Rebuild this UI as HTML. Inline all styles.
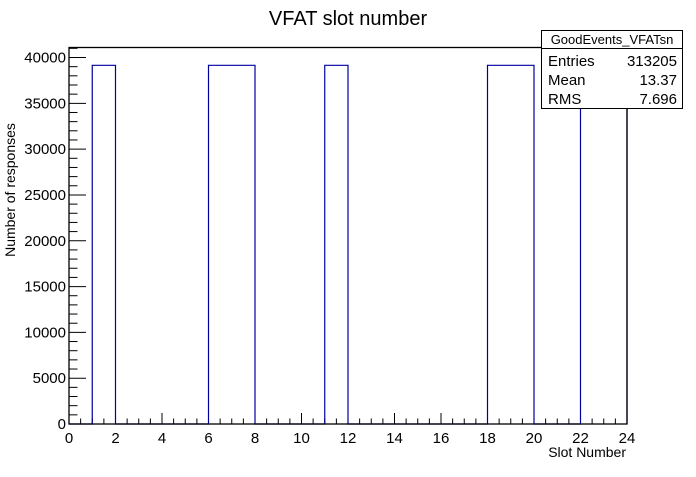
<!DOCTYPE html>
<html><head><meta charset="utf-8"><style>
body{margin:0;background:#fff;font-family:"Liberation Sans",sans-serif;}
svg text{font-family:"Liberation Sans",sans-serif;}
</style></head><body>
<svg id="c" width="696" height="472" viewBox="0 0 696 472">
<rect width="696" height="472" fill="#fff"/>
<text x="348" y="25" font-size="20" text-anchor="middle">VFAT slot number</text>
<g id="plot"></g>
<text x="626" y="457" font-size="14" text-anchor="end">Slot Number</text>
<text transform="translate(15,190) rotate(-90)" font-size="14" text-anchor="middle">Number of responses</text>
<g>
<rect x="541.5" y="30.5" width="141" height="78" fill="#fff" stroke="#000"/>
<line x1="541.5" y1="48.5" x2="682.5" y2="48.5" stroke="#000"/>
<text x="612" y="44" font-size="13" text-anchor="middle">GoodEvents_VFATsn</text>
<text x="548" y="66" font-size="15">Entries</text><text x="677" y="66" font-size="15" text-anchor="end">313205</text>
<text x="548" y="85" font-size="15">Mean</text><text x="677" y="85" font-size="15" text-anchor="end">13.37</text>
<text x="548" y="104" font-size="15">RMS</text><text x="677" y="104" font-size="15" text-anchor="end">7.696</text>
</g>
</svg>
<script>
const binLow = [1, 6, 7, 11, 18, 19, 22, 23];
const binCounts = [39150, 39150, 39150, 39150, 39150, 39150, 39150, 39150];
const xTicks = [0,2,4,6,8,10,12,14,16,18,20,22,24];
const yTicks = [0,5000,10000,15000,20000,25000,30000,35000,40000];
const X0=69,X1=627,Y0=424,YMAX=41100,YTOP=47.5;
const sx=v=>X0+(v/24)*(X1-X0);
const sy=v=>Y0-(v/40000)*(Y0-57.5);
const ns="http://www.w3.org/2000/svg";
const g=document.getElementById('plot');
function mk(t,a){const e=document.createElementNS(ns,t);for(const k in a)e.setAttribute(k,a[k]);g.appendChild(e);return e;}
// x ticks
for(let i=0;i<=48;i++){const v=i/2;const maj=(i%4===0);
mk('line',{x1:sx(v),x2:sx(v),y1:Y0,y2:Y0-(maj?11:5.5),stroke:'#000'});}
// y ticks
for(let v=0;v<=YMAX;v+=1000){const maj=v%5000===0;mk('line',{x1:X0,x2:X0+(maj?17:8.5),y1:sy(v),y2:sy(v),stroke:'#000'});}
// histogram outline
let counts=new Array(24).fill(0);
binLow.forEach((b,i)=>{counts[b]=binCounts[i];});
let d=`M${sx(0)},${sy(0)}`;
for(let i=0;i<24;i++){d+=` L${sx(i)},${sy(counts[i])} L${sx(i+1)},${sy(counts[i])}`;}
d+=` L${sx(24)},${sy(0)}`;
const h=mk('path',{d:d,fill:'none',stroke:'#0000a0','stroke-width':1.2});


// frame
const f=mk('rect',{x:X0,y:YTOP,width:X1-X0,height:Y0-YTOP,fill:'none',stroke:'#000','stroke-width':1.3});


xTicks.forEach(v=>{const t=mk('text',{x:sx(v),y:Y0+19,'font-size':15,'text-anchor':'middle'});t.textContent=v;

});
yTicks.forEach(v=>{const t=mk('text',{x:X0-3,y:sy(v)+5,'font-size':15,'text-anchor':'end'});t.textContent=v;

});
</script>
</body></html>
